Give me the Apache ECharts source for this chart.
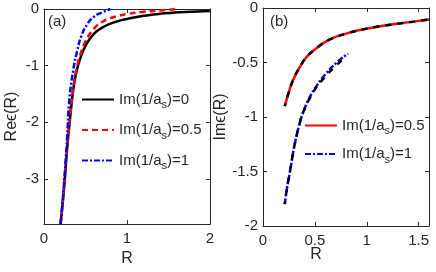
<!DOCTYPE html>
<html>
<head>
<meta charset="utf-8">
<script src="https://cdn.jsdelivr.net/npm/echarts@6/dist/echarts.min.js"></script>
<style>html,body{margin:0;padding:0;background:#fff}#c{width:436px;height:272px}</style>
</head>
<body>
<div id="c"></div>
<script>
// Panel (a): Re eps(R)
var aBlackR = [0.2, 0.24, 0.28, 0.32, 0.36, 0.40, 0.45, 0.5, 0.6, 0.7, 0.8, 0.9, 1.0, 1.1, 1.2, 1.3, 1.4, 1.5, 1.7, 2.0];
var aBlackV = [-3.8, -3.2, -2.45, -1.85, -1.35, -1.05, -0.82, -0.65, -0.44, -0.33, -0.26, -0.21, -0.175, -0.145, -0.12, -0.1, -0.083, -0.07, -0.052, -0.035];
var aRedR = [0.2, 0.24, 0.28, 0.32, 0.36, 0.40, 0.45, 0.5, 0.6, 0.7, 0.8, 0.9, 1.0, 1.2, 1.4, 1.58];
var aRedV = [-3.8, -3.15, -2.4, -1.8, -1.32, -1.0, -0.75, -0.57, -0.35, -0.23, -0.16, -0.12, -0.09, -0.05, -0.025, -0.005];
var aBlueR = [0.2, 0.24, 0.28, 0.30, 0.35, 0.40, 0.45, 0.52, 0.6, 0.7, 0.8];
var aBlueV = [-3.8, -3.1, -2.25, -1.7, -1.1, -0.74, -0.48, -0.27, -0.14, -0.06, 0.0];
// Panel (b): Im eps(R)
var bRedR = [0.21, 0.25, 0.29, 0.35, 0.42, 0.5, 0.64, 0.8, 0.97, 1.1, 1.29, 1.45, 1.6];
var bRedV = [-0.9, -0.77, -0.66, -0.55, -0.45, -0.38, -0.29, -0.235, -0.195, -0.172, -0.145, -0.125, -0.105];
var bBlueR = [0.21, 0.23, 0.26, 0.29, 0.31, 0.35, 0.39, 0.45, 0.52, 0.6, 0.71, 0.82];
var bBlueV = [-1.8, -1.66, -1.5, -1.33, -1.23, -1.07, -0.95, -0.82, -0.71, -0.61, -0.5, -0.42];
var bDashLoR = [0.21, 0.23, 0.26, 0.29, 0.31, 0.35, 0.39, 0.45, 0.52, 0.6, 0.68, 0.76];
var bDashLoV = [-1.8, -1.66, -1.5, -1.33, -1.23, -1.07, -0.95, -0.83, -0.72, -0.63, -0.55, -0.48];
var aXTicks = [0, 1, 2];
var aYTicks = [-3, -2, -1, 0];
var bXTicks = [0, 0.5, 1, 1.5];
var bYTicks = [-2, -1.5, -1, -0.5, 0];
var namesA = ['Im(1/as)=0', 'Im(1/as)=0.5', 'Im(1/as)=1'];
var namesB = ['Im(1/as)=0.5 ', 'Im(1/as)=1 '];

function pairs(xs, ys) { return xs.map(function (x, i) { return [x, ys[i]]; }); }

var txt = '#262626';
var axCol = '#262626';
var font = 'Liberation Sans, Arial, sans-serif';

function xAx(grid, min, max, ticks, main, name) {
  return {
    type: 'value', gridIndex: grid, min: min, max: max, position: main ? 'bottom' : 'top',
    axisLine: { show: true, onZero: false, lineStyle: { color: axCol, width: 1 } },
    axisTick: { show: true, inside: true, length: 4, customValues: ticks, lineStyle: { color: axCol } },
    axisLabel: { show: main, customValues: ticks, color: txt, fontSize: 15, fontFamily: font, margin: 7 },
    splitLine: { show: false },
    name: name, nameLocation: 'middle', nameGap: 22,
    nameTextStyle: { color: txt, fontSize: 16, fontFamily: font }
  };
}
function yAx(grid, min, max, ticks, main, name) {
  return {
    type: 'value', gridIndex: grid, min: min, max: max, position: main ? 'left' : 'right',
    axisLine: { show: true, onZero: false, lineStyle: { color: axCol, width: 1 } },
    axisTick: { show: true, inside: true, length: 4, customValues: ticks, lineStyle: { color: axCol } },
    axisLabel: { show: main, customValues: ticks, color: txt, fontSize: 15, fontFamily: font, margin: 5 },
    splitLine: { show: false },
    name: name, nameLocation: 'middle', nameGap: 24,
    nameTextStyle: { color: txt, fontSize: 16, fontFamily: font }
  };
}

var rich = {
  n: { fontSize: 15, fontFamily: font, color: txt, lineHeight: 22, verticalAlign: 'middle' },
  s: { fontSize: 11, fontFamily: font, color: txt, lineHeight: 8, verticalAlign: 'bottom' }
};
function fmt(name) {
  var t = name.trim();
  var i = t.indexOf('as)');
  return '{n|' + t.slice(0, i + 1) + '}{s|s}{n|' + t.slice(i + 2) + '}';
}

var lw = 2.5;
var legendCommon = {
  orient: 'vertical', padding: 0, itemWidth: 32, itemHeight: 14,
  formatter: fmt, textStyle: { rich: rich }, selectedMode: false,
  itemStyle: { opacity: 0 }
};
var option = {
  animation: false,
  grid: [
    { left: 44, right: 226, top: 9, bottom: 46 },
    { left: 263, right: 7, top: 8, bottom: 46 }
  ],
  xAxis: [
    xAx(0, 0, 2, aXTicks, true, 'R'), xAx(0, 0, 2, aXTicks, false, ''),
    xAx(1, 0, 1.6, bXTicks, true, ''), xAx(1, 0, 1.6, bXTicks, false, '')
  ],
  yAxis: [
    yAx(0, -3.8, 0, aYTicks, true, 'Re\u03f5(R)'), yAx(0, -3.8, 0, aYTicks, false, ''),
    yAx(1, -2, 0, bYTicks, true, 'Im\u03f5(R)'), yAx(1, -2, 0, bYTicks, false, '')
  ],
  legend: [
    Object.assign({ data: namesA, left: 81, top: 92, itemGap: 12 }, legendCommon),
    Object.assign({ data: namesB, left: 304, top: 118, itemGap: 10 }, legendCommon)
  ],
  series: [
    { name: namesA[0], type: 'line', xAxisIndex: 0, yAxisIndex: 0, data: pairs(aBlackR, aBlackV), smooth: true, showSymbol: false, symbol: 'none',
      lineStyle: { color: '#000', width: lw }, itemStyle: { color: '#000' } },
    { name: namesA[1], type: 'line', xAxisIndex: 0, yAxisIndex: 0, data: pairs(aRedR, aRedV), smooth: true, showSymbol: false, symbol: 'none',
      lineStyle: { color: '#ff0000', width: lw, type: [6, 4] }, itemStyle: { color: '#ff0000' } },
    { name: namesA[2], type: 'line', xAxisIndex: 0, yAxisIndex: 0, data: pairs(aBlueR, aBlueV), smooth: true, showSymbol: false, symbol: 'none',
      lineStyle: { color: '#0000ff', width: lw, type: [6, 2, 2, 2] }, itemStyle: { color: '#0000ff' } },
    { name: namesB[0], type: 'line', xAxisIndex: 2, yAxisIndex: 2, data: pairs(bRedR, bRedV), smooth: true, showSymbol: false, symbol: 'none',
      lineStyle: { color: '#ff0000', width: lw }, itemStyle: { color: '#ff0000' } },
    { name: namesB[1], type: 'line', xAxisIndex: 2, yAxisIndex: 2, data: pairs(bBlueR, bBlueV), smooth: true, showSymbol: false, symbol: 'none',
      lineStyle: { color: '#0000ff', width: lw, type: [6, 2, 2, 2] }, itemStyle: { color: '#0000ff' } },
    { name: 'approxHi', type: 'line', xAxisIndex: 2, yAxisIndex: 2, data: pairs(bRedR, bRedV), smooth: true, showSymbol: false, symbol: 'none',
      lineStyle: { color: '#000', width: lw, type: [6, 6], dashOffset: 3 }, itemStyle: { color: '#000' } },
    { name: 'approxLo', type: 'line', xAxisIndex: 2, yAxisIndex: 2, data: pairs(bDashLoR, bDashLoV), smooth: true, showSymbol: false, symbol: 'none',
      lineStyle: { color: '#000', width: lw, type: [6, 6], dashOffset: 3 }, itemStyle: { color: '#000' } }
  ],
  graphic: [
    { type: 'text', left: 48, top: 14, style: { text: '(a)', fill: txt, fontSize: 15, fontFamily: font } },
    { type: 'text', left: 270, top: 14, style: { text: '(b)', fill: txt, fontSize: 15, fontFamily: font } },
    { type: 'text', x: 316, y: 255, style: { text: 'R', fill: txt, fontSize: 16, fontFamily: font, align: 'center', verticalAlign: 'middle' } }
  ]
};
var chart = echarts.init(document.getElementById('c'), null, { renderer: 'canvas' });
chart.setOption(option);
</script>
</body>
</html>
